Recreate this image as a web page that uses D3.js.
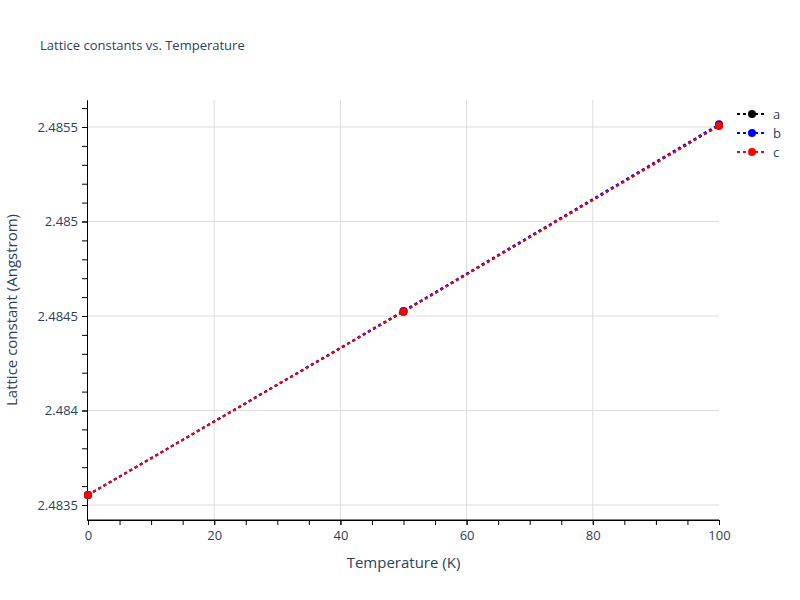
<!DOCTYPE html>
<html>
<head>
<meta charset="utf-8">
<script src="https://cdn.jsdelivr.net/npm/d3@7"></script>
<style>
  body { margin: 0; background: #fff; }
  text { font-family: "Open Sans", Verdana, Arial, sans-serif; fill: #2a3f5f; }
  .axis path, .axis line { stroke: #000; }
  .axis text { font-size: 13px; fill: #2a3f5f; }
  .grid line { stroke: #dcdcdc; stroke-width: 1; }
</style>
</head>
<body>
<svg id="chart" width="800" height="600"></svg>
<script>
// data
var temps = [0, 50, 100];
var seriesNames = ["a", "b", "c"];
var aVals = [2.483553, 2.484523, 2.485507];
var bVals = [2.483553, 2.484527, 2.485514];
var cVals = [2.483553, 2.484523, 2.485507];
var seriesColors = ["black", "blue", "red"];
var xTicks = [0, 20, 40, 60, 80, 100];
var yTicks = [2.4835, 2.484, 2.4845, 2.485, 2.4855];

var allSeries = [aVals, bVals, cVals];

var margins = {left: 88, right: 81, top: 100, bottom: 80};
var width = 800, height = 600;

var svg = d3.select("#chart");

// x: 0..100 -> 88..719
var xScale = d3.scaleLinear().domain([0, 100]).range([margins.left, width - margins.right]);
var yPerUnit = (505 - 127) / 0.002;
var yTop = 2.4855 + (127 - margins.top) / yPerUnit;
var yBot = 2.4835 - (height - margins.bottom - 505) / yPerUnit;
var yScale = d3.scaleLinear().domain([yBot, yTop]).range([height - margins.bottom, margins.top]);

var fmt = function(d) { return d3.format("")(+d.toFixed(4)); };

// grid
var grid = svg.append("g").attr("class", "grid");
grid.selectAll(".gx").data(xTicks.filter(function(d){ return d > 0 && d < 100; }))
  .enter().append("line")
  .attr("x1", function(d){ return xScale(d); }).attr("x2", function(d){ return xScale(d); })
  .attr("y1", margins.top).attr("y2", height - margins.bottom);
grid.selectAll(".gy").data(yTicks)
  .enter().append("line")
  .attr("x1", margins.left).attr("x2", width - margins.right)
  .attr("y1", function(d){ return yScale(d); }).attr("y2", function(d){ return yScale(d); });

// minor ticks
var xMinor = d3.range(0, 101, 5);
var yMinor = d3.range(24834, 24857).map(function(d){ return d / 10000; })
  .filter(function(d){ return d >= yBot && d <= yTop; });

var xAxis = d3.axisBottom(xScale).tickValues(xTicks).tickSize(5).tickSizeOuter(0).tickPadding(6).tickFormat(d3.format("d"));
var xAxisMinor = d3.axisBottom(xScale).tickValues(xMinor).tickSize(5).tickSizeOuter(0).tickFormat("");
var yAxis = d3.axisLeft(yScale).tickValues(yTicks).tickSize(5).tickSizeOuter(0).tickPadding(4).tickFormat(fmt);
var yAxisMinor = d3.axisLeft(yScale).tickValues(yMinor).tickSize(5).tickSizeOuter(0).tickFormat("");

svg.append("g").attr("class", "axis")
  .attr("transform", "translate(0," + (height - margins.bottom) + ")")
  .call(xAxisMinor);
svg.append("g").attr("class", "axis")
  .attr("transform", "translate(0," + (height - margins.bottom) + ")")
  .call(xAxis)
  .call(function(g){ g.select(".domain").attr("d", "M" + (margins.left - 1) + ",0H" + (width - margins.right)); });
svg.append("g").attr("class", "axis")
  .attr("transform", "translate(" + (margins.left - 1) + ",0)")
  .call(yAxisMinor);
svg.append("g").attr("class", "axis")
  .attr("transform", "translate(" + (margins.left - 1) + ",0)")
  .call(yAxis);

// lines + markers
var line = d3.line()
  .x(function(d, i){ return xScale(temps[i]); })
  .y(function(d){ return yScale(d); });

var plot = svg.append("g");
allSeries.forEach(function(vals, si) {
  plot.append("path")
    .datum(vals)
    .attr("d", line)
    .attr("fill", "none")
    .attr("stroke", seriesColors[si])
    .attr("stroke-width", 2)
    .attr("stroke-dasharray", "3,3");
  plot.selectAll(".pt" + si).data(vals).enter().append("circle")
    .attr("cx", function(d, i){ return xScale(temps[i]); })
    .attr("cy", function(d){ return yScale(d); })
    .attr("r", 4)
    .attr("fill", seriesColors[si]);
});

// legend
var legend = svg.append("g").attr("transform", "translate(737,114)");
seriesNames.forEach(function(name, i) {
  var row = legend.append("g").attr("transform", "translate(0," + (i * 19) + ")");
  row.append("line").attr("x1", 0).attr("x2", 30).attr("y1", 0).attr("y2", 0)
    .attr("stroke", seriesColors[i]).attr("stroke-width", 2).attr("stroke-dasharray", "3,3");
  row.append("circle").attr("cx", 15).attr("cy", 0).attr("r", 4).attr("fill", seriesColors[i]);
  row.append("text").attr("x", 36).attr("y", 4.5).style("font-size", "13px").text(name);
});

// titles
svg.append("text").attr("x", 40).attr("y", 50).style("font-size", "13px")
  .text("Lattice constants vs. Temperature");
svg.append("text").attr("text-anchor", "middle")
  .attr("x", (margins.left + width - margins.right) / 2).attr("y", 568)
  .style("font-size", "15px").text("Temperature (K)");
svg.append("text").attr("text-anchor", "middle")
  .attr("transform", "translate(17," + ((margins.top + height - margins.bottom) / 2) + ") rotate(-90)")
  .style("font-size", "15px").text("Lattice constant (Angstrom)");
</script>
</body>
</html>
